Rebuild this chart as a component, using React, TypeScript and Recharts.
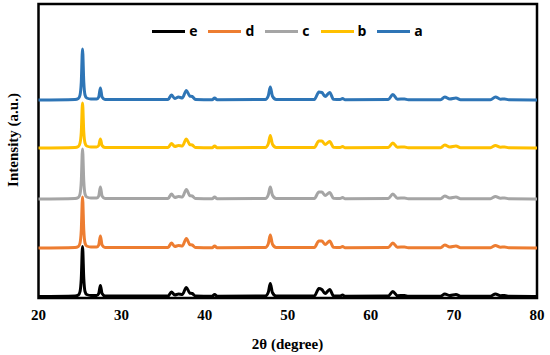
import { Line, LineChart, ReferenceArea, XAxis, YAxis } from "recharts";

const twoTheta = [
  20, 24.4, 24.8, 25.0, 25.15, 25.3, 25.45, 25.6, 25.8, 26.3,
  27.0, 27.25, 27.45, 27.65, 28.0,
  35.6, 36.0, 36.4, 36.85, 37.3, 37.8, 38.2, 38.5, 38.9,
  40.9, 41.2, 41.5,
  47.3, 47.65, 47.9, 48.15, 48.6,
  53.2, 53.75, 54.1, 54.5, 55.05, 55.5,
  56.3, 56.6, 56.9,
  62.1, 62.65, 63.2, 64.05, 64.5,
  68.4, 68.9, 69.5, 70.25, 70.8,
  74.4, 75.0, 75.6, 76.1, 76.6, 80,
];

const patternA = [
  0, 0.5, 1.5, 5, 18, 51, 18, 5, 2, 1,
  1, 3, 12, 3, 0.5,
  0.5, 5, 1.5, 3, 2, 9.5, 4, 3.5, 0.5,
  0.3, 2, 0.3,
  0.5, 4, 13, 4, 0.5,
  0.5, 8, 7.5, 3.5, 7.5, 0.8,
  0.5, 1.5, 0.3,
  0.5, 5.5, 0.8, 1, 0.2,
  0.3, 3, 1, 2, 0.3,
  0.3, 3, 0.8, 1, 0.2, 0,
];

const patternB = [
  0, 0.5, 1.5, 5, 16, 45, 16, 5, 2, 1,
  1, 2.5, 9, 2.5, 0.5,
  0.5, 4.5, 1.5, 2.5, 2, 9, 3.5, 3, 0.5,
  0.3, 2, 0.3,
  0.5, 4, 12.5, 4, 0.5,
  0.5, 7, 7, 3.5, 6.5, 0.8,
  0.5, 1.5, 0.3,
  0.5, 5, 0.8, 1, 0.2,
  0.3, 3, 1, 2, 0.3,
  0.3, 2.5, 0.8, 1, 0.2, 0,
];

const patternC = [
  0, 0.5, 1.5, 5, 18, 50, 18, 5, 2, 1,
  1, 3, 12, 3, 0.5,
  0.5, 5, 1.5, 2.5, 2, 9.5, 3.5, 3, 0.5,
  0.3, 2, 0.3,
  0.5, 4, 12, 4, 0.5,
  0.5, 7, 7, 3.5, 6.5, 0.8,
  0.5, 1.5, 0.3,
  0.5, 5, 0.8, 1, 0.2,
  0.3, 3, 1, 2, 0.3,
  0.3, 2.5, 0.8, 1, 0.2, 0,
];

const patternD = [
  0, 0.5, 1.5, 5, 18, 51, 18, 5, 2, 1,
  1, 3, 12, 3, 0.5,
  0.5, 5, 1.5, 2.5, 2, 9.5, 3.5, 3, 0.5,
  0.3, 2, 0.3,
  0.5, 4, 13, 4, 0.5,
  0.5, 7, 7, 3.5, 7, 0.8,
  0.5, 1.5, 0.3,
  0.5, 5, 0.8, 1, 0.2,
  0.3, 3, 1, 2, 0.3,
  0.3, 2.5, 0.8, 1, 0.2, 0,
];

const patternE = [
  0, 0.5, 1.5, 5, 18, 50, 18, 5, 2, 1,
  1, 3, 11, 3, 0.5,
  0.5, 4.5, 1.5, 2.5, 2, 9, 3.5, 3, 0.5,
  0.3, 2, 0.3,
  0.5, 4, 13, 4, 0.5,
  0.5, 8, 7, 3, 7, 0.8,
  0.5, 1.5, 0.3,
  0.5, 5, 0.8, 1, 0.2,
  0.3, 2.5, 1, 2, 0.3,
  0.3, 2.5, 0.8, 1, 0.2, 0,
];

// vertical stacking offsets of each pattern
const offsets = { a: 198, b: 150, c: 99, d: 50, e: 1.5 };

const xTicks = [20, 30, 40, 50, 60, 70, 80];

const series = [
  { key: "e", label: "e", color: "#000000", values: patternE },
  { key: "d", label: "d", color: "#ED7D31", values: patternD },
  { key: "c", label: "c", color: "#A5A5A5", values: patternC },
  { key: "b", label: "b", color: "#FFC000", values: patternB },
  { key: "a", label: "a", color: "#2E75B6", values: patternA },
] as const;

const chartData = twoTheta.map((x, i) => {
  const row: Record<string, number> = { x };
  series.forEach((s) => {
    row[s.key] = s.values[i] + offsets[s.key];
  });
  return row;
});

const serif = "'Liberation Serif', 'Times New Roman', serif";
const serifBold = { fontFamily: serif, fontWeight: 700, fontSize: 15, fill: "#000" };

function XTick(props: any) {
  const { x, y, payload } = props;
  return (
    <text x={x} y={y} dy={11} textAnchor="middle" dominantBaseline="central" style={serifBold}>
      {payload.value}
    </text>
  );
}

function LegendRow() {
  return (
    <div
      style={{
        position: "absolute",
        top: 23,
        left: 38,
        width: 510,
        display: "flex",
        justifyContent: "center",
        alignItems: "center",
        fontFamily: "'Open Sans', 'Liberation Sans', sans-serif",
        fontWeight: 700,
        fontSize: 14,
        color: "#000",
        lineHeight: "16px",
      }}
    >
      {series.map((s) => (
        <div key={s.key} style={{ display: "flex", alignItems: "center", marginRight: 11 }}>
          <span style={{ width: 33, height: 3, background: s.color, display: "inline-block", marginRight: 4 }} />
          <span>{s.label}</span>
        </div>
      ))}
    </div>
  );
}

export default function App() {
  return (
    <div style={{ position: "absolute", left: 0, top: 0, width: 550, height: 355, background: "#fff" }}>
      <LineChart width={550} height={355} data={chartData} margin={{ top: 4, right: 13, left: 0, bottom: 0 }}>
        <XAxis
          dataKey="x"
          type="number"
          domain={[20, 80]}
          ticks={xTicks}
          axisLine={false}
          tickLine={false}
          tickSize={6}
          tickMargin={0}
          height={57}
          tick={<XTick />}
          label={() => (
            <text x={287.5} y={344} textAnchor="middle" dominantBaseline="central" style={serifBold}>
              2θ (degree)
            </text>
          )}
        />
        <YAxis
          type="number"
          domain={[0, 294]}
          allowDataOverflow
          tick={false}
          axisLine={false}
          tickLine={false}
          width={38.5}
          label={() => (
            <text
              x={13}
              y={140}
              transform="rotate(-90 13 140)"
              textAnchor="middle"
              dominantBaseline="central"
              style={serifBold}
            >
              Intensity (a.u.)
            </text>
          )}
        />
        <ReferenceArea x1={20} x2={80} y1={0} y2={294} fill="none" stroke="#000" strokeWidth={2.5} />
        {series.map((s) => (
          <Line
            key={s.key}
            type="monotone"
            dataKey={s.key}
            name={s.label}
            stroke={s.color}
            strokeWidth={3}
            dot={false}
            isAnimationActive={false}
          />
        ))}
      </LineChart>
      <LegendRow />
    </div>
  );
}
